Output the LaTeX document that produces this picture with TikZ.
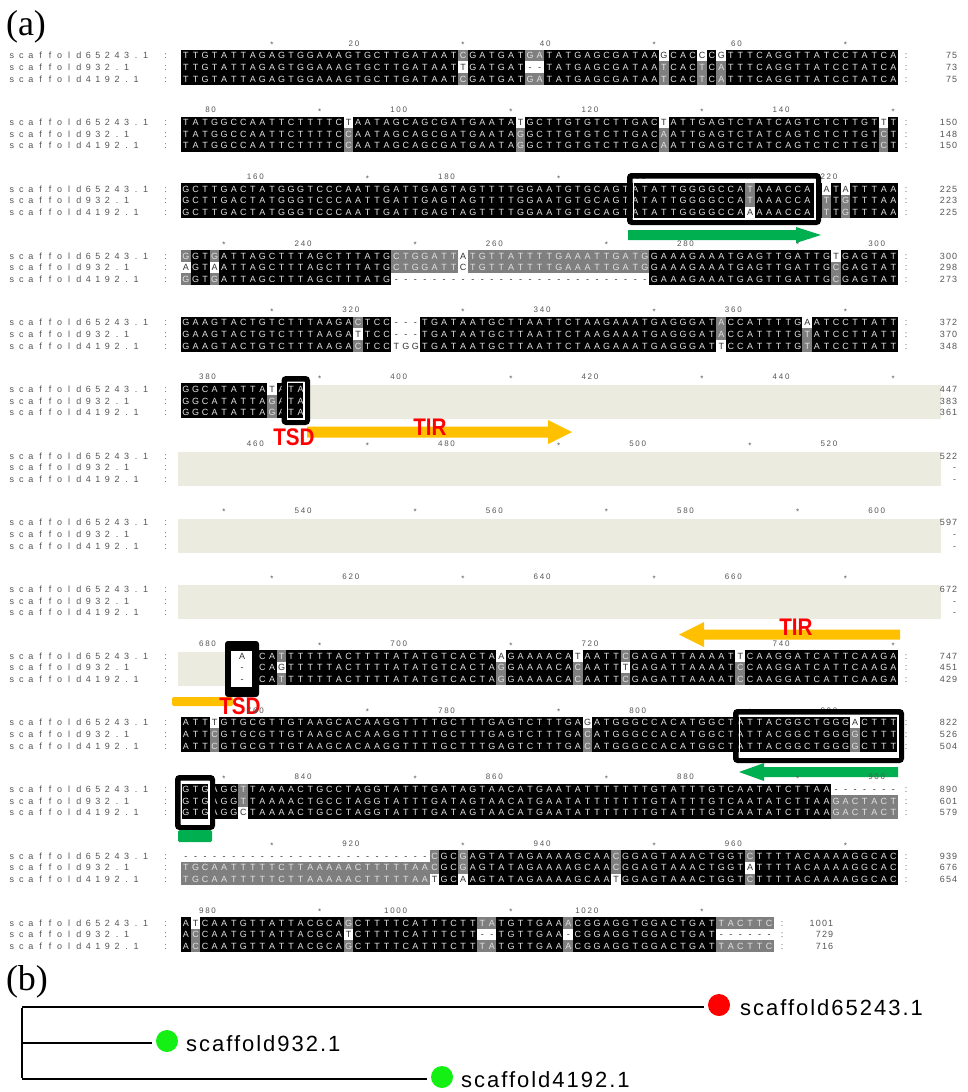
\documentclass[tikz,border=0pt]{standalone}
\usepackage{fontspec}
\setmainfont{Liberation Sans}
\newfontfamily\panelfont{Liberation Serif}
\newfontfamily\annfont[FakeStretch=0.86]{Liberation Sans}
\newfontfamily\treefont[LetterSpace=9]{Liberation Sans}
\definecolor{cellgray}{HTML}{7F7F7F}
\definecolor{beige}{HTML}{ECEBDF}
\definecolor{orng}{HTML}{FFC000}
\definecolor{grn}{HTML}{00B050}
\definecolor{lgreen}{HTML}{14F014}
\definecolor{txtgray}{HTML}{555555}
\definecolor{seqlight}{HTML}{E2E2E2}
\definecolor{seqdark}{HTML}{333333}
\newlength\cw \setlength\cw{9.56pt}
\newlength\dw \setlength\dw{6.2pt}
\makeatletter
% [ ... ] marks letters printed dark (on white cells)
\def\seqtxt#1{\def\seq@cur{.}\expandafter\seq@loop#1\relax}
\def\seq@loop#1{%
  \ifx\relax#1\let\seq@next\relax
  \else\ifx[#1\def\seq@cur{seqdark}\let\seq@next\seq@loop
  \else\ifx]#1\def\seq@cur{.}\let\seq@next\seq@loop
  \else\makebox[\cw][c]{\color{\seq@cur}#1}\let\seq@next\seq@loop\fi\fi\fi
  \seq@next}
\def\digtxt#1{\expandafter\dig@loop#1\relax}
\def\dig@loop#1{\ifx\relax#1\else\makebox[\dw][c]{#1}\expandafter\dig@loop\fi}
\makeatother
\tikzset{
  seqtext/.style={inner sep=0pt,font=\fontsize{9}{9}\selectfont,text=seqlight},
  seqdk/.style={seqtext,text=seqdark},
  labtext/.style={inner sep=0pt,font=\fontsize{9}{9}\selectfont,text=txtgray},
  rulertext/.style={inner sep=0pt,font=\fontsize{8}{8}\selectfont,text=txtgray},
  annot/.style={inner sep=0pt,text=red,font=\annfont\bfseries\fontsize{24}{24}\selectfont},
  treeline/.style={line width=2.5pt,black},
  leafdot/.style={circle,inner sep=0pt,minimum size=22pt},
  treelab/.style={inner sep=0pt,font=\treefont\fontsize{22}{22}\selectfont,anchor=west},
}
\newcommand\setblk[1]{\pgfmathsetmacro\BT{49.8+66.7*(#1)}\pgfmathsetmacro\RU{\BT-6.6}}
\newcommand\cx[1]{(181+((#1)-1)*9.56)}
\newcommand\ry[1]{(\BT+11.67*(#1))}
\newcommand\bandfill[4]{\fill[black] ({\cx{#1}},{\ry{#3}}) rectangle ({\cx{#2}+9.56},{\ry{#4}+11.67});}
\newcommand\grun[3]{\fill[cellgray] ({\cx{#2}},{\ry{#1}}) rectangle ({\cx{#3}+9.56},{\ry{#1}+11.67});}
\newcommand\grr[4]{\grun{#1}{#3}{#4}\grun{#2}{#3}{#4}}
\newcommand\wfill[3]{\fill[white] ({\cx{#2}},{\ry{#1}}) rectangle ({\cx{#3}+9.56},{\ry{#1}+11.67});}
\newcommand\srow[3]{\node[seqtext,anchor=base west] at ({\cx{#2}},{\ry{#1}+9.1}) {\seqtxt{#3}};}
\newcommand\labelsrows{\foreach \r/\nm in {0/scaffold65243.1,1/scaffold932.1,2/scaffold4192.1}{%
  \node[labtext,anchor=base west] at (6.9,{\ry{\r}+9.1}) {\seqtxt{\nm}};
  \node[labtext,anchor=base] at (165.7,{\ry{\r}+9.1}) {:};}}
\newcommand\rcolons[1]{\foreach \r in {0,1,2}{\node[labtext,anchor=base] at (#1,{\ry{\r}+9.1}) {:};}}
\newcommand\rnums[4]{\foreach \r/\v in {0/#2,1/#3,2/#4}{\node[labtext,anchor=base east] at (#1,{\ry{\r}+9.1}) {\digtxt{\v}};}}
\newcommand\rulerrow[2]{%
  \foreach \j in {1,...,#2}{%
    \pgfmathtruncatemacro\nn{75*#1+\j}%
    \pgfmathtruncatemacro\mten{mod(\nn,10)}%
    \pgfmathtruncatemacro\mtw{mod(\nn,20)}%
    \ifnum\mten=0
      \ifnum\mtw=0
        \node[rulertext,anchor=base east] at ({\cx{\j}+4.78-7},{\RU+2.9}) {\digtxt{\nn}};
      \else
        \node[rulertext,anchor=base] at ({\cx{\j}+4.78},{\RU+4.6}) {*};
      \fi
    \fi}}
\newcommand\dframe[4]{%
  \draw[black,line width=5.5pt,rounded corners=2pt] ({#1+2.75},{#2+2.75}) rectangle ({#3-2.75},{#4-2.75});
  \draw[white,line width=1.2pt] ({#1+6.1},{#2+6.1}) rectangle ({#3-6.1},{#4-6.1});}
\newcommand\rarrow[7]{\fill[#1] (#2,{#4-#5}) -- ({#3-#7},{#4-#5}) -- ({#3-#7},{#4-#6}) -- (#3,#4) -- ({#3-#7},{#4+#6}) -- ({#3-#7},{#4+#5}) -- (#2,{#4+#5}) -- cycle;}
\newcommand\larrow[7]{\fill[#1] (#3,{#4-#5}) -- ({#2+#7},{#4-#5}) -- ({#2+#7},{#4-#6}) -- (#2,#4) -- ({#2+#7},{#4+#6}) -- ({#2+#7},{#4+#5}) -- (#3,{#4+#5}) -- cycle;}

\begin{document}
\begin{tikzpicture}[x=1pt,y=-1pt]
\useasboundingbox (0,0) rectangle (967,1092);
\fill[white] (0,0) rectangle (967,1092);
\node[inner sep=0pt,font=\panelfont\fontsize{36}{36}\selectfont] (pa) at (26,27) {(a)};

% ---------- block 0
\setblk{0}
\rulerrow{0}{75}\labelsrows
\bandfill{1}{75}{0}{2}
\grr{0}{2}{30}{30}\grr{0}{2}{37}{38}\grr{1}{2}{51}{51}\grr{1}{2}{55}{55}\grr{1}{2}{57}{57}
\wfill{1}{30}{30}\wfill{1}{37}{38}\wfill{0}{51}{51}\wfill{0}{55}{55}\wfill{0}{57}{57}
\srow{0}{1}{TTGTATTAGAGTGGAAAGTGCTTGATAATCGATGATGATATGAGCGATAA[G]CAC[C]C[G]TTTCAGGTTATCCTATCA}
\srow{1}{1}{TTGTATTAGAGTGGAAAGTGCTTGATAAT[T]GATGAT[--]TATGAGCGATAATCACTCATTTCAGGTTATCCTATCA}
\srow{2}{1}{TTGTATTAGAGTGGAAAGTGCTTGATAATCGATGATGATATGAGCGATAATCACTCATTTCAGGTTATCCTATCA}
\rcolons{906}\rnums{958}{75}{73}{75}

% ---------- block 1
\setblk{1}
\rulerrow{1}{75}\labelsrows
\bandfill{1}{75}{0}{2}
\grr{1}{2}{18}{18}\grr{1}{2}{36}{36}\grr{1}{2}{51}{51}\grr{1}{2}{74}{74}
\wfill{0}{18}{18}\wfill{0}{36}{36}\wfill{0}{51}{51}\wfill{0}{74}{74}
\srow{0}{1}{TATGGCCAATTCTTTTC[T]AATAGCAGCGATGAATA[T]GCTTGTGTCTTGAC[T]ATTGAGTCTATCAGTCTCTTGT[T]T}
\srow{1}{1}{TATGGCCAATTCTTTTCCAATAGCAGCGATGAATAGGCTTGTGTCTTGACAATTGAGTCTATCAGTCTCTTGTCT}
\srow{2}{1}{TATGGCCAATTCTTTTCCAATAGCAGCGATGAATAGGCTTGTGTCTTGACAATTGAGTCTATCAGTCTCTTGTCT}
\rcolons{906}\rnums{958}{150}{148}{150}

% ---------- block 2
\setblk{2}
\rulerrow{2}{75}\labelsrows
\bandfill{1}{75}{0}{2}
\grr{0}{1}{60}{60}\grr{1}{2}{68}{68}\grr{1}{2}{70}{70}
\wfill{2}{60}{60}\wfill{0}{68}{68}\wfill{0}{70}{70}
\srow{0}{1}{GCTTGACTATGGGTCCCAATTGATTGAGTAGTTTTGGAATGTGCAGTATATTGGGGCCATAAACCAT[A]T[A]TTTAA}
\srow{1}{1}{GCTTGACTATGGGTCCCAATTGATTGAGTAGTTTTGGAATGTGCAGTATATTGGGGCCATAAACCATTTGTTTAA}
\srow{2}{1}{GCTTGACTATGGGTCCCAATTGATTGAGTAGTTTTGGAATGTGCAGTATATTGGGGCCA[A]AAACCATTTGTTTAA}
\rcolons{906}\rnums{958}{225}{223}{225}
\dframe{627}{173}{821}{225}
\rarrow{grn}{628}{821}{235}{5}{8}{25}

% ---------- block 3
\setblk{3}
\rulerrow{3}{75}\labelsrows
\bandfill{1}{75}{0}{2}
\grr{0}{2}{1}{1}\grr{0}{2}{4}{4}\grun{0}{23}{29}\grun{1}{23}{29}\grun{0}{31}{49}\grun{1}{31}{49}\grr{1}{2}{69}{69}
\wfill{1}{1}{1}\wfill{1}{4}{4}\wfill{0}{30}{30}\wfill{1}{30}{30}\wfill{2}{23}{49}\wfill{0}{69}{69}
\srow{0}{1}{GGTGATTAGCTTTAGCTTTATGCTGGATT[A]TGTTATTTTGAAATTGATGGAAAGAAATGAGTTGATTG[T]GAGTAT}
\srow{1}{1}{[A]GT[A]ATTAGCTTTAGCTTTATGCTGGATT[C]TGTTATTTTGAAATTGATGGAAAGAAATGAGTTGATTGCGAGTAT}
\srow{2}{1}{GGTGATTAGCTTTAGCTTTATG[---------------------------]GAAAGAAATGAGTTGATTGCGAGTAT}
\rcolons{906}\rnums{958}{300}{298}{273}

% ---------- block 4
\setblk{4}
\rulerrow{4}{75}\labelsrows
\bandfill{1}{75}{0}{2}
\grr{0}{2}{19}{19}\grr{0}{1}{57}{57}\grr{1}{2}{66}{66}
\wfill{1}{19}{19}\wfill{0}{23}{25}\wfill{1}{23}{25}\wfill{2}{23}{25}\wfill{2}{57}{57}\wfill{0}{66}{66}
\srow{0}{1}{GAAGTACTGTCTTTAAGACTCC[---]TGATAATGCTTAATTCTAAGAAATGAGGGATACCATTTTG[A]ATCCTTATT}
\srow{1}{1}{GAAGTACTGTCTTTAAGA[T]TCC[---]TGATAATGCTTAATTCTAAGAAATGAGGGATACCATTTTGTATCCTTATT}
\srow{2}{1}{GAAGTACTGTCTTTAAGACTCC[TGG]TGATAATGCTTAATTCTAAGAAATGAGGGAT[T]CCATTTTGTATCCTTATT}
\rcolons{906}\rnums{958}{372}{370}{348}

% ---------- block 5
\setblk{5}
\rulerrow{5}{75}\labelsrows
\fill[beige] (310,{\BT+2}) rectangle (941,{\BT+36});
\bandfill{1}{13}{0}{2}
\grr{1}{2}{10}{10}
\wfill{0}{10}{10}
\srow{0}{1}{GGCATATTA[T]ATA}
\srow{1}{1}{GGCATATTAGATA}
\srow{2}{1}{GGCATATTAGATA}
\rnums{958}{447}{383}{361}
\dframe{281.5}{376}{310}{425}
\rarrow{orng}{307}{572}{432}{5.5}{12}{24}
\node[annot] (tsd1) at (294,437) {TSD};
\node[annot] (tir1) at (430,427.5) {TIR};

% ---------- blocks 6-8
\setblk{6}
\rulerrow{6}{75}\labelsrows
\fill[beige] (178,{\BT+2}) rectangle (941,{\BT+36});
\rnums{958}{522}{-}{-}
\setblk{7}
\rulerrow{7}{75}\labelsrows
\fill[beige] (178,{\BT+2}) rectangle (941,{\BT+36});
\rnums{958}{597}{-}{-}
\setblk{8}
\rulerrow{8}{75}\labelsrows
\fill[beige] (178,{\BT+2}) rectangle (941,{\BT+36});
\rnums{958}{672}{-}{-}

% ---------- block 9
\setblk{9}
\rulerrow{9}{75}\labelsrows
\fill[beige] (178,{\BT+2}) rectangle (230,{\BT+36});
\bandfill{8}{75}{0}{2}
\grr{0}{2}{11}{11}\grr{1}{2}{34}{34}\grr{1}{2}{42}{42}\grr{0}{2}{47}{47}\grr{1}{2}{59}{59}
\wfill{1}{11}{11}\wfill{0}{34}{34}\wfill{0}{42}{42}\wfill{1}{47}{47}\wfill{0}{59}{59}
\srow{0}{8}{TCATTTTTTACTTTTATATGTCACTA[A]GAAAACA[T]AATTCGAGATTAAAAT[T]CAAGGATCATTCAAGA}
\srow{1}{8}{TCA[G]TTTTTACTTTTATATGTCACTAGGAAAACACAATT[T]GAGATTAAAATCCAAGGATCATTCAAGA}
\srow{2}{8}{TCATTTTTTACTTTTATATGTCACTAGGAAAACACAATTCGAGATTAAAATCCAAGGATCATTCAAGA}
\rcolons{906}\rnums{958}{747}{451}{429}
\fill[black,rounded corners=3pt] (225,641) rectangle (259,697);
\fill[white] (231,{\BT+1}) rectangle (252,{\BT+37});
\foreach \r/\ch in {0/A,1/-,2/-}{\node[seqdk,anchor=base] at (242,{\ry{\r}+9.1}) {\ch};}
\larrow{orng}{679}{900}{634.5}{5}{12.5}{25}
\node[annot] (tir2) at (796,627.5) {TIR};
\fill[orng,rounded corners=2pt] (172,697) rectangle (233,706);
\node[annot] (tsd2) at (240,706) {TSD};

% ---------- block 10
\setblk{10}
\rulerrow{10}{75}\labelsrows
\bandfill{1}{75}{0}{2}
\grr{1}{2}{4}{4}\grr{1}{2}{43}{43}\grr{1}{2}{71}{71}
\wfill{0}{4}{4}\wfill{0}{43}{43}\wfill{0}{71}{71}
\srow{0}{1}{ATT[T]GTGCGTTGTAAGCACAAGGTTTTGCTTTGAGTCTTTGA[G]ATGGGCCACATGGCTATTACGGCTGGG[A]CTTT}
\srow{1}{1}{ATTCGTGCGTTGTAAGCACAAGGTTTTGCTTTGAGTCTTTGACATGGGCCACATGGCTATTACGGCTGGGGCTTT}
\srow{2}{1}{ATTCGTGCGTTGTAAGCACAAGGTTTTGCTTTGAGTCTTTGACATGGGCCACATGGCTATTACGGCTGGGGCTTT}
\rcolons{906}\rnums{958}{822}{526}{504}
\dframe{733}{709}{904}{763}
\larrow{grn}{739}{898}{772}{5}{9}{25}

% ---------- block 11
\setblk{11}
\rulerrow{11}{75}\labelsrows
\bandfill{1}{75}{0}{2}
\grr{0}{1}{7}{7}\grun{1}{69}{75}\grun{2}{69}{75}
\wfill{2}{7}{7}\wfill{0}{69}{75}
\srow{0}{1}{GTGAGGTTAAAACTGCCTAGGTATTTGATAGTAACATGAATATTTTTTTGTATTTGTCAATATCTTAA[-------]}
\srow{1}{1}{GTGAGGTTAAAACTGCCTAGGTATTTGATAGTAACATGAATATTTTTTTGTATTTGTCAATATCTTAAGACTACT}
\srow{2}{1}{GTGAGG[C]TAAAACTGCCTAGGTATTTGATAGTAACATGAATATTTTTTTGTATTTGTCAATATCTTAAGACTACT}
\rcolons{906}\rnums{958}{890}{601}{579}
\dframe{175}{775}{215}{830}
\fill[grn,rounded corners=1.5pt] (178,830) rectangle (212,842);

% ---------- block 12
\setblk{12}
\rulerrow{12}{75}\labelsrows
\bandfill{1}{75}{0}{2}
\grun{1}{1}{26}\grun{2}{1}{26}\grr{0}{1}{27}{27}\grr{0}{1}{30}{30}\grr{0}{1}{46}{46}\grr{0}{2}{60}{60}
\wfill{0}{1}{26}\wfill{2}{27}{27}\wfill{2}{30}{30}\wfill{2}{46}{46}\wfill{1}{60}{60}
\srow{0}{1}{[--------------------------]CGCGAGTATAGAAAAGCAACGGAGTAAACTGGTCTTTTACAAAAGGCAC}
\srow{1}{1}{TGCAATTTTTCTTAAAAACTTTTTAACGCGAGTATAGAAAAGCAACGGAGTAAACTGGT[A]TTTTACAAAAGGCAC}
\srow{2}{1}{TGCAATTTTTCTTAAAAACTTTTTAA[T]GC[A]AGTATAGAAAAGCAA[T]GGAGTAAACTGGTCTTTTACAAAAGGCAC}
\rcolons{906}\rnums{958}{939}{676}{654}

% ---------- block 13
\setblk{13}
\rulerrow{13}{62}\labelsrows
\bandfill{1}{62}{0}{2}
\grr{1}{2}{2}{2}\grr{0}{2}{18}{18}\grr{0}{2}{32}{33}\grr{0}{2}{41}{41}\grr{0}{2}{57}{62}
\wfill{0}{2}{2}\wfill{1}{18}{18}\wfill{1}{32}{33}\wfill{1}{41}{41}\wfill{1}{57}{62}
\srow{0}{1}{A[T]CAATGTTATTACGCAGCTTTTCATTTCTTTATGTTGAAACGGAGGTGGACTGATTACTTC}
\srow{1}{1}{ACCAATGTTATTACGCA[T]CTTTTCATTTCTT[--]TGTTGAA[-]CGGAGGTGGACTGAT[------]}
\srow{2}{1}{ACCAATGTTATTACGCAGCTTTTCATTTCTTTATGTTGAAACGGAGGTGGACTGATTACTTC}
\rcolons{782}\rnums{834}{1001}{729}{716}

% ---------- panel (b): tree
\node[inner sep=0pt,font=\panelfont\fontsize{36}{36}\selectfont] (pb) at (27,982) {(b)};
\coordinate (rt) at (22,1007);
\coordinate (rm) at (22,1043);
\coordinate (rb) at (22,1079);
\node[leafdot,fill=red] (c1) at (719,1005) {};
\node[leafdot,fill=lgreen] (c2) at (167,1041) {};
\node[leafdot,fill=lgreen] (c3) at (442,1077) {};
\node[treelab] (t1) at (740,1008) {scaffold65243.1};
\node[treelab] (t2) at (186,1044) {scaffold932.1};
\node[treelab] (t3) at (461,1080) {scaffold4192.1};
\draw[treeline] ([yshift=-1.25pt]rt) -- ([yshift=1.25pt]rb);
\draw[treeline,shorten >=4pt] (rt) -- (rt -| c1.west);
\draw[treeline,shorten >=4pt] (rm) -- (rm -| c2.west);
\draw[treeline,shorten >=4pt] (rb) -- (rb -| c3.west);
\end{tikzpicture}
\end{document}
